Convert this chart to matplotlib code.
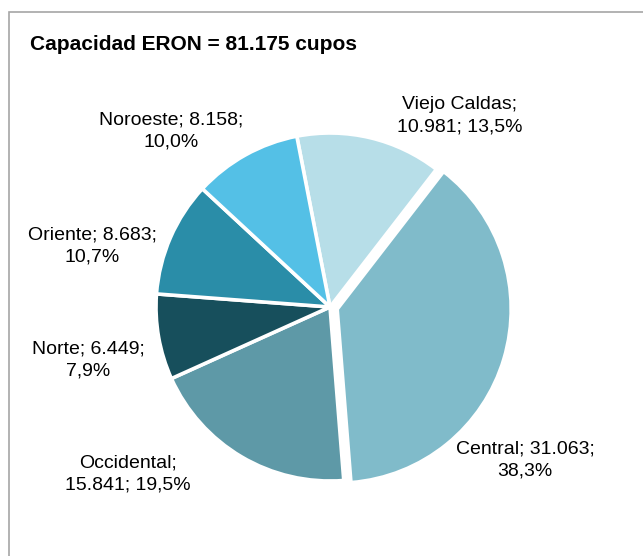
import matplotlib
matplotlib.use("Agg")
from matplotlib import pyplot as plt
from matplotlib.patches import Rectangle

# Data (order: clockwise starting near 12 o'clock)
regions = ['Viejo Caldas', 'Central', 'Occidental', 'Norte', 'Oriente', 'Noroeste']
cupos = [10981, 31063, 15841, 6449, 8683, 8158]
percent_labels = ['13,5%', '38,3%', '19,5%', '7,9%', '10,7%', '10,0%']
value_labels = ['10.981', '31.063', '15.841', '6.449', '8.683', '8.158']
title = 'Capacidad ERON = 81.175 cupos'

colors = ['#B7DEE8', '#80BBCA', '#5E99A7', '#174F5C', '#2A8DA8', '#54C0E6']
# pie() offsets exploded wedges in data units (pixels here)
explode = [0, 7.5, 0, 0, 0, 0]

# label text layout (pixel positions, y from top) and line-break style
label_pos = [(460, 116), (525, 460), (128, 474), (88, 360), (92, 246), (171, 131)]
break_after_name = [True, False, True, False, False, False]

W, H = 643, 556
plt.rcParams['font.family'] = ['Liberation Sans', 'DejaVu Sans']

fig = plt.figure(figsize=(W / 100, H / 100), dpi=100)
ax = fig.add_axes([0, 0, 1, 1])

ax.pie(cupos, colors=colors, explode=explode, startangle=101, counterclock=False,
       center=(330, H - 307), radius=174, frame=True,
       wedgeprops=dict(edgecolor='white', linewidth=2.6))
ax.set_xlim(0, W)
ax.set_ylim(0, H)
ax.set_aspect('equal')
ax.axis('off')

# chart frame (cropped on the right and bottom)
ax.add_patch(Rectangle((8.5, -20), W + 20, H - 11.5 + 20, fill=False,
                       edgecolor='#A6A6A6', linewidth=1.2))

for name, val, pct, (x, y), brk in zip(regions, value_labels, percent_labels,
                                       label_pos, break_after_name):
    if brk:
        txt = f'{name};\n{val}; {pct}'
    else:
        txt = f'{name}; {val};\n{pct}'
    ax.text(x, H - y, txt, ha='center', va='center', fontsize=14,
            linespacing=1.42, color='black')

ax.text(30, H - 45, title, ha='left', va='center', fontsize=15,
        fontweight='bold', color='black')

fig.savefig('out.png', dpi=100)
